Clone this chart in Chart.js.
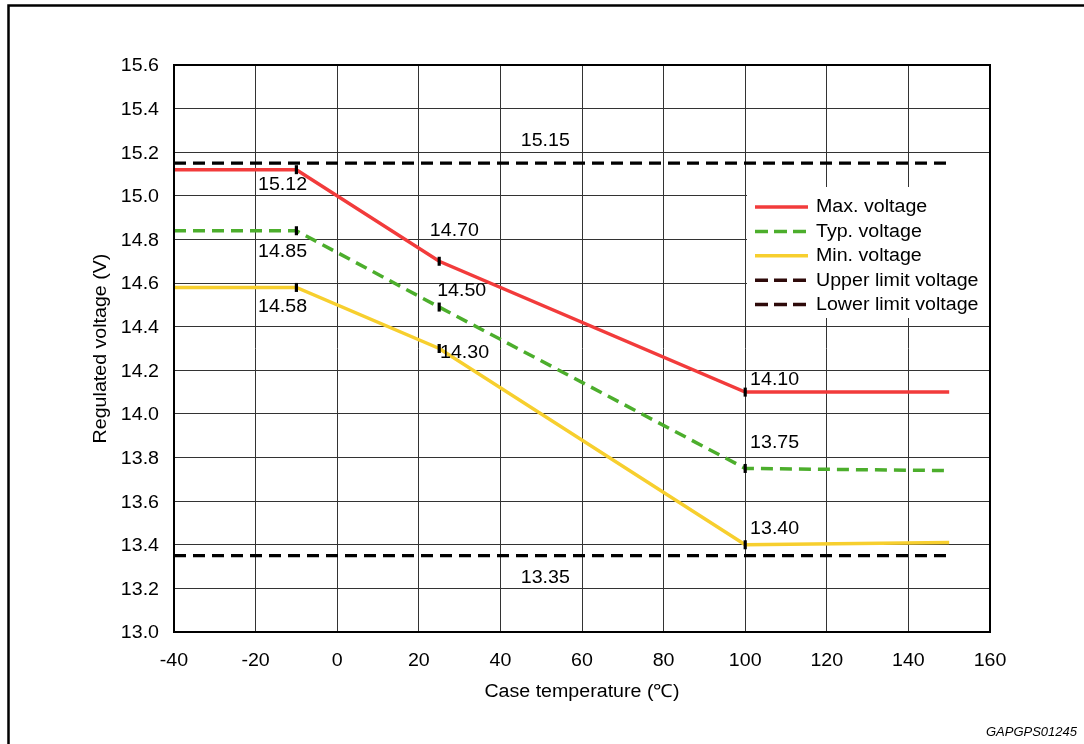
<!DOCTYPE html>
<html>
<head>
<meta charset="utf-8">
<script src="https://cdn.jsdelivr.net/npm/chart.js@4/dist/chart.umd.min.js"></script>
<style>
  html, body { margin: 0; padding: 0; background: #fff; }
  canvas { display: block; }
</style>
</head>
<body>
<canvas id="c" width="1084" height="744"></canvas>
<script>
// data
const temps = [-40, -10, 25, 100, 150];
const maxV = [15.12, 15.12, 14.70, 14.10, 14.10];
const typV = [14.84, 14.84, 14.49, 13.75, 13.74];
const minV = [14.58, 14.58, 14.30, 13.40, 13.41];
const limitT = [-40, 150];
const upperV = [15.15, 15.15];
const lowerV = [13.35, 13.35];

const xTicks = [-40, -20, 0, 20, 40, 60, 80, 100, 120, 140, 160];
const yTicks = [13.0, 13.2, 13.4, 13.6, 13.8, 14.0, 14.2, 14.4, 14.6, 14.8, 15.0, 15.2, 15.4, 15.6];

// value callouts (left edge / vertical middle, in data units)
const calloutText = ['15.15', '15.12', '14.85', '14.58', '14.70', '14.50', '14.30', '14.10', '13.75', '13.40', '13.35'];
const calloutT = [45.0, -19.4, -19.4, -19.4, 22.7, 24.5, 25.2, 101.2, 101.2, 101.2, 45.0];
const calloutV = [15.26, 15.054, 14.749, 14.497, 14.846, 14.568, 14.284, 14.162, 13.871, 13.481, 13.252];

const legendNames = ['Max. voltage', 'Typ. voltage', 'Min. voltage', 'Upper limit voltage', 'Lower limit voltage'];
const legendColors = ['#f23b3b', '#4cae2c', '#f7cf2e', '#2e0a0a', '#2e0a0a'];
const legendDashed = [false, true, false, true, true];

const FONT = "'Liberation Sans', Arial, Helvetica, sans-serif";
const SX = 1.09; // the original type runs a little wider than Arial
const HALF_CAP = 6.4; // half cap height at 18px

const pts = (xs, ys) => xs.map((x, i) => ({ x, y: ys[i] }));
const marks = [0, 4.5, 4.5, 4.5, 0];

const mainLine = (label, data, color, dash) => ({
  label, data, borderColor: color, borderWidth: 3.5, borderDash: dash || [],
  pointStyle: 'line', rotation: 90, pointRadius: marks, pointHoverRadius: 0,
  pointBorderColor: '#000', pointBorderWidth: 3.2, tension: 0, fill: false
});
const limitLine = (label, data) => ({
  label, data, borderColor: '#000', borderWidth: 3.2, borderDash: [12, 7],
  pointRadius: 0, tension: 0, fill: false
});

// stretched text helper, y is the middle of the capitals
const txt = (ctx, s, x, y, align, rot) => {
  ctx.save();
  ctx.translate(x, y);
  if (rot) ctx.rotate(rot);
  ctx.scale(SX, 1);
  ctx.textAlign = align;
  ctx.textBaseline = 'alphabetic';
  ctx.fillText(s, 0, HALF_CAP);
  ctx.restore();
};

const decor = {
  id: 'decor',
  afterDatasetsDraw(chart) {
    const { ctx, chartArea: a, scales: { x, y } } = chart;
    ctx.save();
    ctx.fillStyle = '#000';
    ctx.font = '18px ' + FONT;
    calloutText.forEach((t, i) => {
      txt(ctx, t, x.getPixelForValue(calloutT[i]), y.getPixelForValue(calloutV[i]), 'left');
    });
    // legend box
    const lx = 747, ly = 187;
    ctx.fillStyle = '#fff';
    ctx.fillRect(lx, ly, a.right - lx, 131);
    legendNames.forEach((name, i) => {
      const yy = 207 + i * 24.4;
      ctx.beginPath();
      ctx.strokeStyle = legendColors[i];
      ctx.lineWidth = 3.5;
      ctx.setLineDash(legendDashed[i] ? [13, 6] : []);
      ctx.moveTo(755, yy);
      ctx.lineTo(808, yy);
      ctx.stroke();
      ctx.setLineDash([]);
      ctx.fillStyle = '#000';
      txt(ctx, name, 816, yy - 1, 'left');
    });
    ctx.restore();
  },
  afterDraw(chart) {
    const { ctx, chartArea: a, scales: { x, y } } = chart;
    ctx.save();
    ctx.strokeStyle = '#000';
    ctx.lineWidth = 2;
    ctx.strokeRect(a.left, a.top, a.right - a.left, a.bottom - a.top);
    // tick labels and axis titles
    ctx.fillStyle = '#000';
    ctx.font = '18px ' + FONT;
    yTicks.forEach(v => txt(ctx, v.toFixed(1), a.left - 15, y.getPixelForValue(v), 'right'));
    xTicks.forEach(v => txt(ctx, String(v), x.getPixelForValue(v), a.bottom + 28, 'center'));
    txt(ctx, 'Regulated voltage (V)', 100, (a.top + a.bottom) / 2, 'center', -Math.PI / 2);
    txt(ctx, 'Case temperature (℃)', (a.left + a.right) / 2, 691, 'center');
    // outer frame
    ctx.lineWidth = 2.5;
    ctx.beginPath();
    ctx.moveTo(8.5, 744);
    ctx.lineTo(8.5, 5.5);
    ctx.lineTo(1084, 5.5);
    ctx.stroke();
    ctx.font = 'italic 13px ' + FONT;
    ctx.textAlign = 'right';
    ctx.textBaseline = 'middle';
    ctx.fillText('GAPGPS01245', 1077, 732);
    ctx.restore();
  }
};

new Chart(document.getElementById('c'), {
  type: 'line',
  data: {
    datasets: [
      limitLine('Upper limit voltage', pts(limitT, upperV)),
      limitLine('Lower limit voltage', pts(limitT, lowerV)),
      mainLine('Max. voltage', pts(temps, maxV), '#f23b3b'),
      mainLine('Typ. voltage', pts(temps, typV), '#4cae2c', [12, 7]),
      mainLine('Min. voltage', pts(temps, minV), '#f7cf2e')
    ]
  },
  options: {
    responsive: false,
    animation: false,
    events: [],
    layout: { padding: { left: 86, top: 65, right: 94, bottom: 40 } },
    plugins: { legend: { display: false }, tooltip: { enabled: false } },
    scales: {
      x: {
        type: 'linear', min: -40, max: 160,
        afterBuildTicks: s => { s.ticks = xTicks.map(v => ({ value: v })); },
        afterFit: s => { s.height = 72; },
        grid: { color: '#333', lineWidth: 1, drawTicks: false },
        border: { display: false },
        ticks: { display: false }
      },
      y: {
        type: 'linear', min: 13.0, max: 15.6,
        afterBuildTicks: s => { s.ticks = yTicks.map(v => ({ value: v })); },
        afterFit: s => { s.width = 88; },
        grid: { color: '#333', lineWidth: 1, drawTicks: false },
        border: { display: false },
        ticks: { display: false }
      }
    }
  },
  plugins: [decor]
});
</script>
</body>
</html>
